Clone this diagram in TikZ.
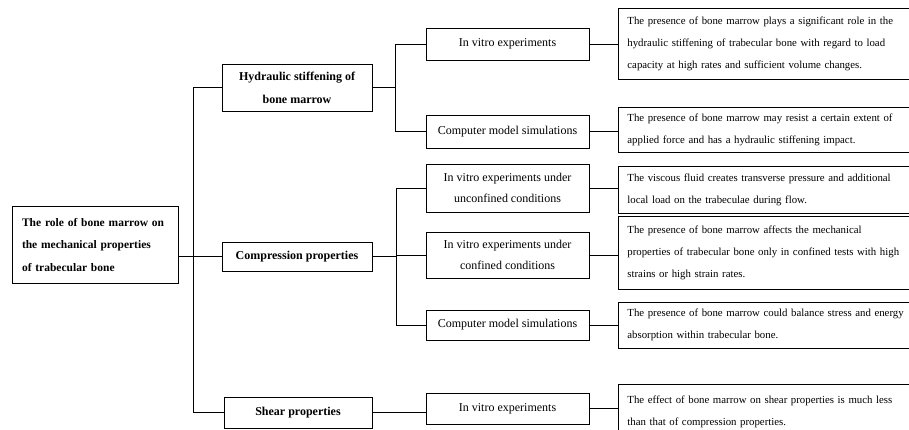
\documentclass[tikz,border=0pt]{standalone}
\usepackage{fontspec}
\setmainfont{Liberation Serif}
\tikzset{
  rootbox/.style={draw, line width=0.8pt, font=\bfseries\fontsize{11.5}{22.5}\selectfont,
    align=left, text width=146pt, inner xsep=10pt, minimum height=77pt},
  topicbox/.style={draw, line width=0.8pt, font=\bfseries\fontsize{12}{23}\selectfont,
    align=center, minimum width=150pt},
  methodbox/.style={draw, line width=0.8pt, font=\fontsize{12}{21}\selectfont,
    align=center, minimum width=163pt},
  findingbox/.style={draw, line width=0.8pt, font=\fontsize{10.8}{22}\selectfont,
    align=left, text width=284pt, inner xsep=9pt, anchor=west},
  link/.style={line width=0.8pt},
}

\begin{document}
\begin{tikzpicture}[x=1pt,y=-1pt]
    \useasboundingbox (0,0) rectangle (909,429);

    % Root box
    \node[rootbox] (root) at (95,245) {The role of bone marrow on\\the mechanical properties\\of trabecular bone};

    % Topics
    \node[topicbox, minimum height=47pt] (hyd) at (297,87.5) {Hydraulic stiffening of\\bone marrow};
    \node[topicbox, minimum height=29pt] (comp) at (297,256.5) {Compression properties};
    \node[topicbox, minimum height=31pt, minimum width=148pt] (shear) at (298,412.5) {Shear properties};

    % Methods
    \node[methodbox, minimum height=32pt] (m1) at (507.5,44) {In vitro experiments};
    \node[methodbox, minimum height=33pt] (m2) at (507.5,131.5) {Computer model simulations};
    \node[methodbox, minimum height=48pt] (m3) at (507.5,188) {In vitro experiments under\\unconfined conditions};
    \node[methodbox, minimum height=46pt] (m4) at (507.5,255) {In vitro experiments under\\confined conditions};
    \node[methodbox, minimum height=30pt] (m5) at (507.5,325) {Computer model simulations};
    \node[methodbox, minimum height=31pt] (m6) at (507.5,408.5) {In vitro experiments};

    % Findings
    \node[findingbox, minimum height=71pt] (r1) at (618,43.5) {The presence of bone marrow plays a significant role in the\\hydraulic stiffening of trabecular bone with regard to load\\capacity at high rates and sufficient volume changes.};
    \node[findingbox, minimum height=45pt] (r2) at (618,129.5) {The presence of bone marrow may resist a certain extent of\\applied force and has a hydraulic stiffening impact.};
    \node[findingbox, minimum height=47pt] (r3) at (618,189.5) {The viscous fluid creates transverse pressure and additional\\local load on the trabeculae during flow.};
    \node[findingbox, minimum height=73pt] (r4) at (618,252.5) {The presence of bone marrow affects the mechanical\\properties of trabecular bone only in confined tests with high\\strains or high strain rates.};
    \node[findingbox, minimum height=46pt] (r5) at (618,325) {The presence of bone marrow could balance stress and energy\\absorption within trabecular bone.};
    \node[findingbox, minimum height=56pt] (r6) at (618,412) {The effect of bone marrow on shear properties is much less\\than that of compression properties.};

    % Bracket lines
    \coordinate (tk) at (193,0);
    \coordinate (hb) at (395,0);
    \coordinate (cb) at (396,0);

    \draw[link] (root.east |- comp.west) -- (comp.west);
    \draw[link] (hyd.west) -- (hyd.west -| tk) |- (shear.west);
    \draw[link] (hyd.east) -- (hyd.east -| hb);
    \draw[link] (m1.west) -- (m1.west -| hb) |- (m2.west);
    \draw[link] (comp.east) -- (comp.east -| cb);
    \draw[link] (m3.west) -- (m3.west -| cb) |- (m5.west);
    \draw[link] (m4.west -| cb) -- (m4.west);
    \draw[link] (shear.east) -- (shear.east -| m6.west);

    % Methods to findings
    \foreach \m/\r in {m1/r1, m2/r2, m3/r3, m4/r4, m5/r5, m6/r6}
        \draw[link] (\m.east) -- (\m.east -| \r.west);
\end{tikzpicture}
\end{document}
